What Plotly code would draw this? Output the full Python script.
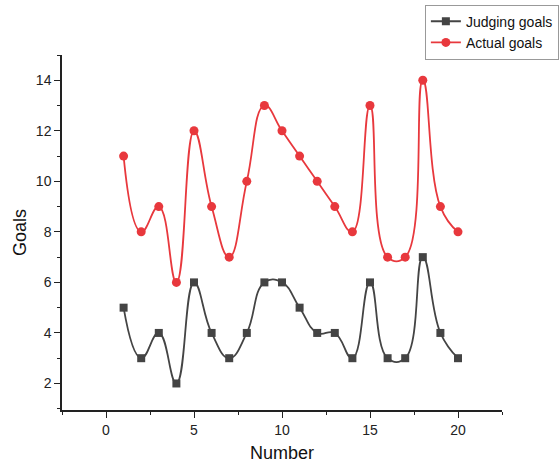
import plotly.graph_objects as go

numbers = list(range(1, 21))
judging_goals = [5, 3, 4, 2, 6, 4, 3, 4, 6, 6, 5, 4, 4, 3, 6, 3, 3, 7, 4, 3]
actual_goals = [11, 8, 9, 6, 12, 9, 7, 10, 13, 12, 11, 10, 9, 8, 13, 7, 7, 14, 9, 8]

fig = go.Figure()
fig.add_trace(go.Scatter(
    x=numbers, y=judging_goals, name="Judging goals", mode="lines+markers",
    line=dict(color="#444444", width=1.8, shape="spline", smoothing=1.3),
    marker=dict(symbol="square", size=8, color="#444444"),
))
fig.add_trace(go.Scatter(
    x=numbers, y=actual_goals, name="Actual goals", mode="lines+markers",
    line=dict(color="#e8383d", width=1.8, shape="spline", smoothing=1.3),
    marker=dict(symbol="circle", size=9, color="#e8383d"),
))

axis_common = dict(
    showgrid=False, zeroline=False, showline=True, linecolor="#222", linewidth=1.5,
    ticks="outside", ticklen=6, tickwidth=1.2, tickcolor="#222",
    tickfont=dict(family="Liberation Sans, Arial", size=14, color="#222"),
)
fig.update_xaxes(
    range=[-2.5, 22.5], tickvals=[0, 5, 10, 15, 20],
    minor=dict(ticks="outside", ticklen=3, tickcolor="#222", tickvals=[-2.5, 2.5, 7.5, 12.5, 17.5, 22.5]),
    title=dict(text="Number", font=dict(family="Liberation Sans, Arial", size=18, color="#111"), standoff=10),
    **axis_common,
)
fig.update_yaxes(
    range=[0.95, 15], tickvals=[2, 4, 6, 8, 10, 12, 14],
    minor=dict(ticks="outside", ticklen=3, tickcolor="#222", tickvals=[1, 3, 5, 7, 9, 11, 13, 15]),
    title=dict(text="Goals", font=dict(family="Liberation Sans, Arial", size=18, color="#111"), standoff=5),
    **axis_common,
)
fig.update_layout(
    width=560, height=464,
    margin=dict(l=62, r=58, t=55, b=54, autoexpand=False),
    plot_bgcolor="white", paper_bgcolor="white",
    legend=dict(x=0.998, y=0.99, xref="container", yref="container", xanchor="right", yanchor="top",
                bordercolor="#999", borderwidth=1, bgcolor="white",
                font=dict(family="Liberation Sans, Arial", size=14, color="#111"),
                tracegroupgap=0, itemwidth=30),
    showlegend=True,
)
fig.write_html("out.html")
